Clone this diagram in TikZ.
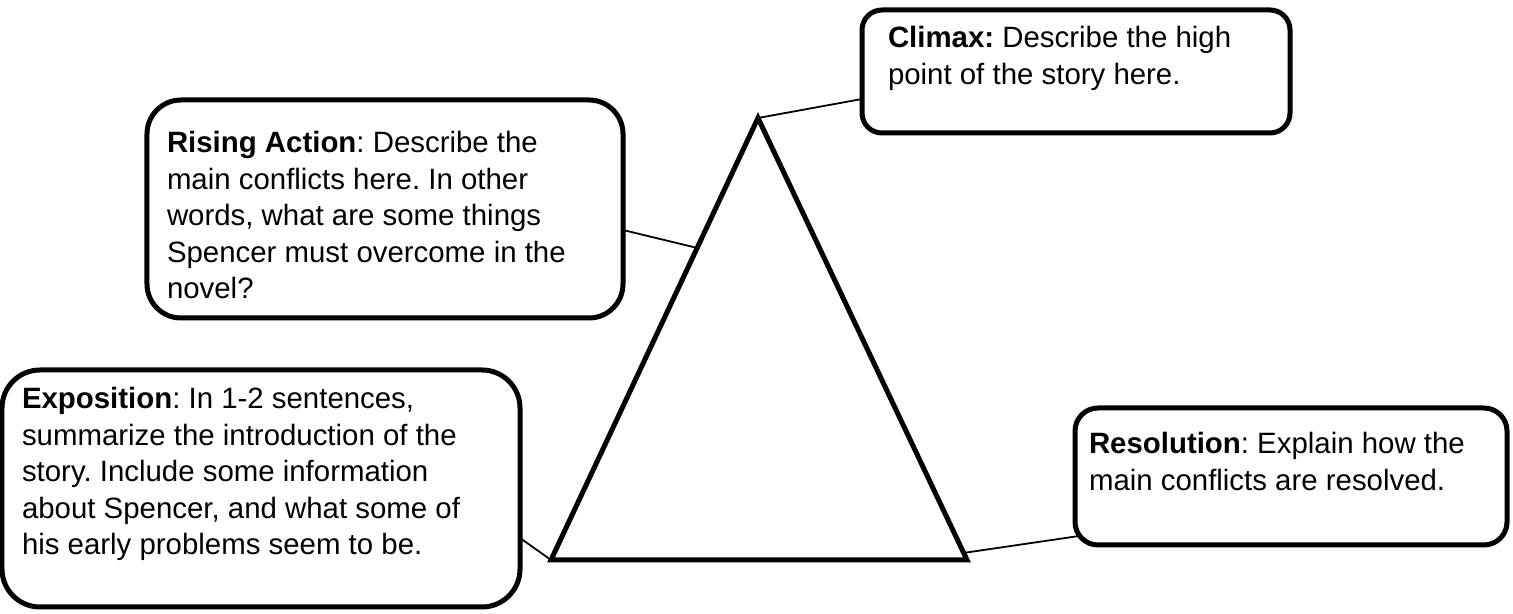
\documentclass[tikz,border=0pt]{standalone}
\usepackage{fontspec}
\setmainfont{Liberation Sans}
\usetikzlibrary{calc,backgrounds}
\begin{document}
\begin{tikzpicture}[x=1bp,y=1bp,
  box/.style={draw=black, line width=5bp, fill=white, rounded corners=#1, outer sep=0pt, inner sep=0pt},
  txt/.style={anchor=north west, inner sep=0pt, outer sep=0pt, align=left, font=\fontsize{29.4bp}{36.4bp}\selectfont\frenchspacing},
  conn/.style={draw=black, line width=1.8bp},
  tri/.style={draw=black, line width=5bp, line join=miter}]
\useasboundingbox (0,0) rectangle (1513,614);
% triangle corners
\coordinate (apex) at (758,496);
\coordinate (bl) at (551,54);
\coordinate (br) at (967,54);
\draw[tri] (apex) -- (bl) -- (br) -- cycle;
% boxes
\node[box=20bp, minimum width=428bp, minimum height=123bp] (climax) at (1076,542.5) {};
\node[box=34bp, minimum width=476bp, minimum height=218bp] (rising) at (385,405) {};
\node[box=38bp, minimum width=518bp, minimum height=237bp] (expo) at (261,125.5) {};
\node[box=23bp, minimum width=432bp, minimum height=137bp] (res) at (1291,137.5) {};
% texts
\node[txt] (climaxtxt) at (888,587.4) {\textbf{Climax:} Describe the high\\point of the story here.};
\node[txt] (risingtxt) at (167,482.4) {\textbf{Rising Action}: Describe the\\main conflicts here. In other\\words, what are some things\\Spencer must overcome in the\\novel?};
\node[txt] (expotxt) at (22,226.4) {\textbf{Exposition}: In 1-2 sentences,\\summarize the introduction of the\\story. Include some information\\about Spencer, and what some of\\his early problems seem to be.};
\node[txt] (restxt) at (1089,181.4) {\textbf{Resolution}: Explain how the\\main conflicts are resolved.};
% connectors
\begin{scope}[on background layer]
\draw[conn] (apex) -- ([yshift=34bp]climax.south west);
\draw[conn] ([yshift=-21bp]rising.east) -- ($(apex)!0.294!(bl)$);
\draw[conn] ([yshift=-49.5bp]expo.east) -- (bl);
\draw[conn] ($(br)!0.016!(apex)$) -- ([shift={(4bp,9bp)}]res.south west);
\end{scope}
\end{tikzpicture}
\end{document}
